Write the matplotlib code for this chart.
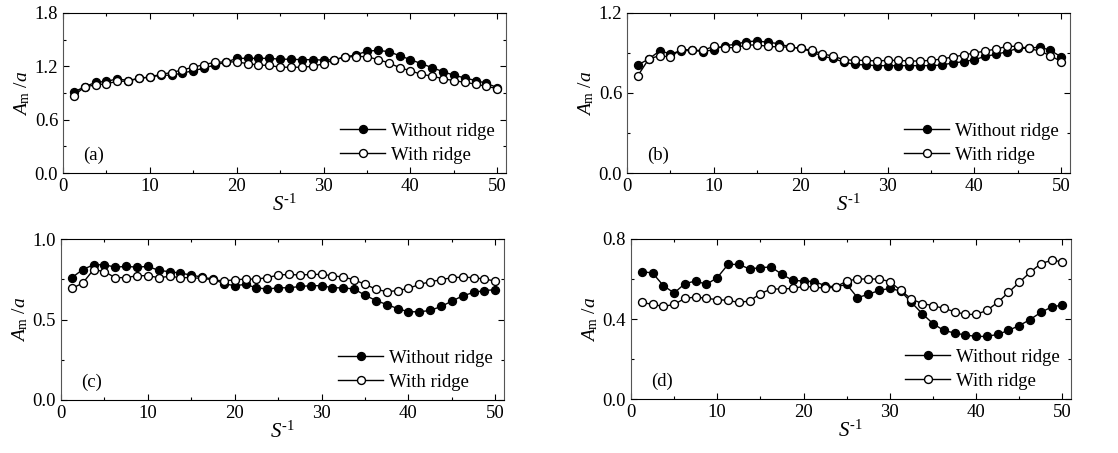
import numpy as np
import matplotlib.pyplot as plt
from matplotlib.ticker import MultipleLocator

plt.rcParams['font.family'] = ['Liberation Serif', 'DejaVu Serif']
plt.rcParams['mathtext.fontset'] = 'custom'
plt.rcParams['mathtext.rm'] = 'Liberation Serif'
plt.rcParams['mathtext.it'] = 'Liberation Serif:italic'

# S^-1 sampling: 40 points from 1.25 to 50
s_inv = np.arange(1, 41) * 1.25

# (a)
a_without = [0.91, 0.97, 1.02, 1.03, 1.06, 1.04, 1.065, 1.08, 1.10, 1.10,
             1.125, 1.15, 1.18, 1.215, 1.245, 1.29, 1.29, 1.29, 1.29, 1.28,
             1.28, 1.275, 1.275, 1.27, 1.275, 1.305, 1.33, 1.37, 1.38, 1.365,
             1.32, 1.275, 1.23, 1.185, 1.14, 1.10, 1.07, 1.04, 1.01, 0.96]
a_with = [0.87, 0.97, 0.99, 1.005, 1.03, 1.035, 1.065, 1.08, 1.11, 1.13,
          1.16, 1.19, 1.22, 1.245, 1.25, 1.25, 1.23, 1.215, 1.21, 1.19,
          1.19, 1.19, 1.20, 1.23, 1.275, 1.305, 1.31, 1.31, 1.275, 1.24,
          1.185, 1.15, 1.11, 1.09, 1.06, 1.04, 1.02, 1.00, 0.975, 0.95]

# (b)
b_without = [0.81, 0.855, 0.915, 0.895, 0.915, 0.92, 0.91, 0.925, 0.955, 0.965,
             0.985, 0.99, 0.98, 0.97, 0.945, 0.935, 0.91, 0.875, 0.86, 0.83,
             0.815, 0.81, 0.805, 0.805, 0.805, 0.805, 0.805, 0.805, 0.81, 0.825,
             0.835, 0.85, 0.875, 0.89, 0.91, 0.935, 0.935, 0.945, 0.92, 0.87]
b_with = [0.73, 0.855, 0.88, 0.87, 0.93, 0.92, 0.92, 0.95, 0.94, 0.94,
          0.96, 0.96, 0.95, 0.945, 0.945, 0.935, 0.92, 0.895, 0.875, 0.85,
          0.845, 0.845, 0.84, 0.845, 0.845, 0.84, 0.84, 0.845, 0.855, 0.87,
          0.885, 0.90, 0.915, 0.93, 0.95, 0.95, 0.935, 0.915, 0.88, 0.835]

# (c)
c_without = [0.76, 0.81, 0.84, 0.84, 0.825, 0.83, 0.825, 0.83, 0.805, 0.797,
             0.788, 0.776, 0.763, 0.751, 0.722, 0.71, 0.718, 0.697, 0.689, 0.697,
             0.697, 0.705, 0.71, 0.71, 0.697, 0.697, 0.689, 0.651, 0.618, 0.593,
             0.568, 0.548, 0.548, 0.556, 0.581, 0.614, 0.647, 0.668, 0.68, 0.685]
c_with = [0.693, 0.726, 0.81, 0.797, 0.76, 0.76, 0.772, 0.772, 0.76, 0.768,
          0.76, 0.76, 0.755, 0.747, 0.739, 0.747, 0.751, 0.751, 0.76, 0.776,
          0.78, 0.776, 0.78, 0.78, 0.772, 0.763, 0.747, 0.718, 0.689, 0.672,
          0.68, 0.693, 0.718, 0.734, 0.747, 0.76, 0.763, 0.76, 0.751, 0.739]

# (d)
d_without = [0.637, 0.63, 0.567, 0.53, 0.577, 0.59, 0.573, 0.607, 0.673, 0.673,
             0.65, 0.657, 0.66, 0.623, 0.593, 0.59, 0.587, 0.567, 0.56, 0.573,
             0.507, 0.523, 0.543, 0.553, 0.54, 0.483, 0.427, 0.377, 0.343, 0.33,
             0.32, 0.313, 0.313, 0.323, 0.343, 0.367, 0.397, 0.433, 0.46, 0.47]
d_with = [0.483, 0.473, 0.463, 0.473, 0.503, 0.51, 0.503, 0.497, 0.493, 0.483,
          0.49, 0.527, 0.55, 0.55, 0.553, 0.563, 0.56, 0.553, 0.56, 0.59,
          0.60, 0.60, 0.60, 0.587, 0.543, 0.50, 0.477, 0.467, 0.453, 0.437,
          0.423, 0.423, 0.443, 0.483, 0.533, 0.583, 0.633, 0.677, 0.693, 0.687]

panels = [
    ('(a)', a_without, a_with, 1.8, 0.6),
    ('(b)', b_without, b_with, 1.2, 0.6),
    ('(c)', c_without, c_with, 1.0, 0.5),
    ('(d)', d_without, d_with, 0.8, 0.4),
]

# axes boxes in pixels: left, top, right, bottom
boxes = [(63, 13, 506, 173), (627, 13, 1070, 173),
         (61, 239, 504, 400), (631, 239, 1071, 399)]

W, H = 1118, 453
fig = plt.figure(figsize=(W / 100, H / 100), dpi=100)

for (tag, yw, yr, ymax, step), (l, t, r, b) in zip(panels, boxes):
    ax = fig.add_axes([l / W, 1 - b / H, (r - l) / W, (b - t) / H])
    ax.plot(s_inv, yw, '-o', color='black', lw=1.0, ms=5.7,
            mfc='black', mec='black', label='Without ridge')
    ax.plot(s_inv, yr, '-o', color='black', lw=1.0, ms=5.7,
            mfc='white', mec='black', mew=1.0, label='With ridge')
    ax.set_xlim(0, 51)
    ax.set_ylim(0, ymax)
    ax.xaxis.set_major_locator(MultipleLocator(10))
    ax.xaxis.set_minor_locator(MultipleLocator(5))
    ax.yaxis.set_major_locator(MultipleLocator(step))
    ax.yaxis.set_minor_locator(MultipleLocator(step / 2))
    ax.yaxis.set_major_formatter(plt.FormatStrFormatter('%.1f'))
    ax.tick_params(which='both', direction='in', top=True, right=True,
                   labelsize=13.5, width=0.8)
    ax.tick_params(which='major', length=4)
    ax.tick_params(which='minor', length=2.5)
    for side in ('left', 'right'):
        ax.spines[side].set_color('#555555')
    ax.set_xlabel(r'$S^{\text{-1}}$', fontsize=15, labelpad=0)
    ax.set_ylabel(r'$A_{\rm m}$ /$a$', fontsize=14, labelpad=2)
    ax.text(0.045, 0.11, tag, transform=ax.transAxes, fontsize=13.5,
            va='center')
    ax.legend(loc='lower right', frameon=False, fontsize=13.5,
              handlelength=2.4, handletextpad=0.3, labelspacing=0.35,
              borderaxespad=0.1, bbox_to_anchor=(0.995, 0.0))

fig.savefig('out.png', dpi=100)
